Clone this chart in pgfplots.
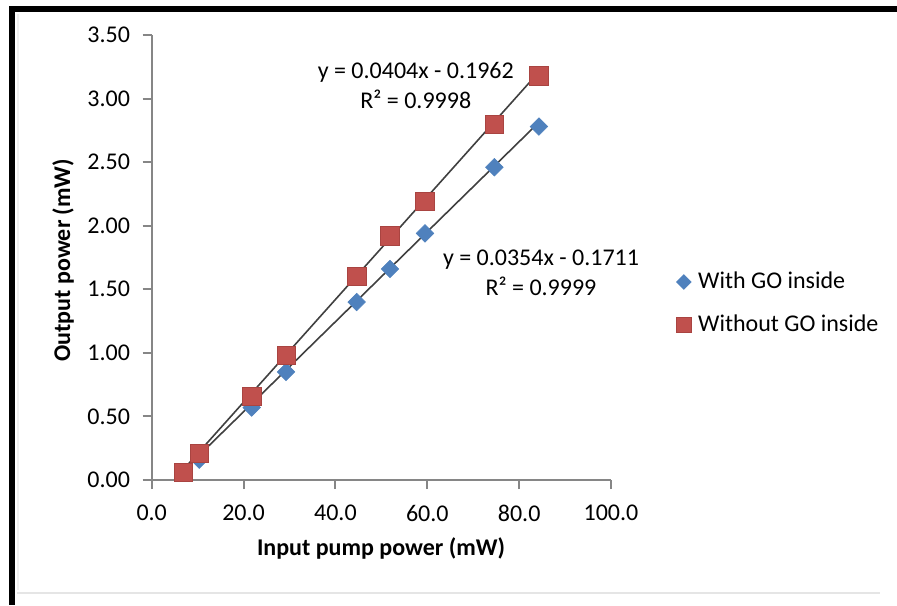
\documentclass[border=0pt]{standalone}
\usepackage{fontspec}
\setmainfont{Carlito}
\usepackage{pgfplots}
\pgfplotsset{compat=1.18}
\definecolor{xlblue}{HTML}{4F81BD}
\definecolor{xlred}{HTML}{C0504D}
\definecolor{xlredd}{HTML}{A94441}
\definecolor{axgray}{HTML}{868686}
\pgfplotsset{mylegend/.style={legend image code/.code={\draw[##1, mark size=#1] plot coordinates {(0pt,0pt)};}}}
\begin{document}
\begin{tikzpicture}
\useasboundingbox (0,0) rectangle (448.5pt,-302.5pt);
\begin{scope}[x=0.5pt,y=-0.5pt]
\fill[black] (9,6) rectangle (15,605);
\fill[black] (9,6) rectangle (897,12);
\draw[black!6, line width=0.8pt] (18,14) -- (18,590);
\draw[black!10, line width=1pt] (17,593) -- (880,593);
\end{scope}
\begin{axis}[
  at={(75.85pt,-240pt)}, anchor=south west,
  scale only axis, width=229.65pt, height=222.5pt,
  xmin=0, xmax=100, ymin=0, ymax=3.5,
  clip=false,
  axis lines=left,
  axis line style={-, axgray, line width=1pt},
  xtick={0,20,40,60,80,100},
  ytick={0,0.5,1,1.5,2,2.5,3,3.5},
  tick align=outside, major tick length=4.5pt,
  tick style={axgray, line width=1pt},
  scaled ticks=false,
  /pgf/number format/assume math mode=true,
  xticklabel style={/pgf/number format/.cd, fixed, fixed zerofill, precision=1, /tikz/.cd, yshift=-4.5pt},
  yticklabel style={/pgf/number format/.cd, fixed, fixed zerofill, precision=2, /tikz/.cd, xshift=-2.8pt},
  tick label style={font=\fontsize{12}{14}\selectfont, black},
  label style={font=\bfseries\fontsize{12}{14}\selectfont},
  xlabel={Input pump power (mW)},
  ylabel={Output power (mW)},
  xlabel style={at={(axis description cs:0.4993,-0.153)}, anchor=center},
  ylabel style={at={(axis description cs:-0.193,0.494)}, anchor=center},
  legend style={draw=none, fill=none, at={(1.1415,0.397)}, anchor=west,
    font=\fontsize{12}{14}\selectfont, row sep=9.5pt, inner sep=0pt,
    nodes={inner xsep=3.5pt, inner ysep=1pt}},
  legend cell align=left,
]
\addplot[only marks, mark=square*, mark size=3.1pt,
  mark options={rotate=45, fill=xlblue, draw=xlblue, line width=0.3pt},
  mylegend=2.6pt]
  coordinates {(6.88,0.06) (10.36,0.16) (21.77,0.57) (29.24,0.85) (44.63,1.40)
  (51.88,1.66) (59.5,1.94) (74.6,2.46) (84.3,2.78)};
\addlegendentry{With GO inside}
\addplot[only marks, mark=square*, mark size=4.6pt,
  mark options={fill=xlred, draw=xlredd, line width=0.3pt},
  mylegend=3.7pt]
  coordinates {(6.88,0.06) (10.36,0.21) (21.77,0.66) (29.24,0.98) (44.63,1.60)
  (51.88,1.92) (59.5,2.19) (74.6,2.80) (84.3,3.18)};
\addlegendentry{Without GO inside}
\addplot[black!75, line width=0.8pt, forget plot] coordinates {(6.88,0.0818) (84.3,3.2095)};
\addplot[black!75, line width=0.8pt, forget plot] coordinates {(6.88,0.0725) (84.3,2.8131)};
\node[align=center, font=\fontsize{12}{15}\selectfont] at (axis cs:57.5,3.105)
  {y = 0.0404x - 0.1962\\R² = 0.9998};
\node[align=center, font=\fontsize{12}{15}\selectfont] at (axis cs:84.76,1.633)
  {y = 0.0354x - 0.1711\\R² = 0.9999};
\end{axis}
\end{tikzpicture}
\end{document}
